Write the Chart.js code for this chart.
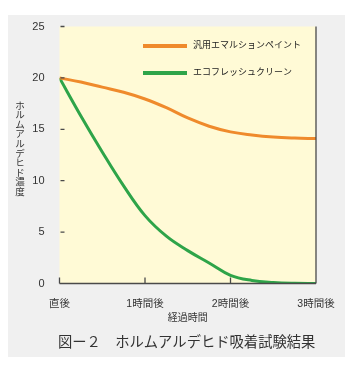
<!DOCTYPE html>
<html>
<head>
<meta charset="utf-8">
<script src="https://cdn.jsdelivr.net/npm/chart.js@4.4.1/dist/chart.umd.min.js"></script>
<style>
    html, body { margin: 0; padding: 0; background: #ffffff; }
    #wrap { width: 352px; height: 365px; }
</style>
</head>
<body>
<div id="wrap"><canvas id="formaldehyde" width="352" height="365"></canvas></div>
<script>
// data
let hours = [0, 0.25, 0.5, 0.75, 1, 1.25, 1.5, 1.75, 2, 2.25, 2.5, 2.75, 3];
let emulsionPaint = [20, 19.6, 19.1, 18.6, 17.95, 17.1, 16.1, 15.3, 14.75, 14.45, 14.25, 14.15, 14.1];
let ecoFreshClean = [20, 16.3, 12.8, 9.5, 6.6, 4.6, 3.2, 2.0, 0.8, 0.3, 0.1, 0.02, 0];
let xTickLabels = ["直後", "1時間後", "2時間後", "3時間後"];
let yTicks = [0, 5, 10, 15, 20, 25];
let seriesNames = ["汎用エマルションペイント", "エコフレッシュクリーン"];
let yTitle = "ホルムアルデヒド濃度";
let xTitle = "経過時間";
let caption = "図ー２　ホルムアルデヒド吸着試験結果";

window.chartColors = {
    orange: '#ef8a2c',
    green: '#2ea449',
    plot: '#fffad6',
    panel: '#f0f0f0',
    axis: '#4a4a4a',
    text: '#333333'
}

let fontFamily = "'Liberation Sans', 'Noto Sans CJK JP', sans-serif";

// backgrounds, axis marks, legend and the extra texts
let decorations = {
    id: 'decorations',
    beforeDraw(chart) {
        let ctx = chart.ctx;
        let a = chart.chartArea;
        ctx.save();
        ctx.fillStyle = '#ffffff';
        ctx.fillRect(0, 0, chart.width, chart.height);
        ctx.fillStyle = window.chartColors.panel;
        ctx.fillRect(8, 15, 337, 342);
        ctx.fillStyle = window.chartColors.plot;
        ctx.fillRect(a.left, a.top, a.right - a.left, a.bottom - a.top);
        ctx.restore();
    },
    afterDraw(chart) {
        let ctx = chart.ctx;
        let a = chart.chartArea;
        let x = chart.scales.x;
        let y = chart.scales.y;
        ctx.save();
        ctx.strokeStyle = window.chartColors.axis;
        ctx.lineWidth = 1.3;
        ctx.beginPath();
        // bottom axis and right edge
        ctx.moveTo(a.left, a.bottom);
        ctx.lineTo(a.right, a.bottom);
        ctx.moveTo(a.right, a.bottom);
        ctx.lineTo(a.right, a.top);
        // y tick marks drawn inward
        yTicks.forEach(v => {
            if (v === 0) return;
            let py = y.getPixelForValue(v);
            ctx.moveTo(a.left + 1, py);
            ctx.lineTo(a.left + 5, py);
        });
        // x tick marks drawn upward
        for (let i = 0; i < xTickLabels.length; i++) {
            let px = x.getPixelForValue(i);
            ctx.moveTo(px, a.bottom);
            ctx.lineTo(px, a.bottom - 6);
        }
        ctx.stroke();

        // legend inside the plot
        let legendColors = [window.chartColors.orange, window.chartColors.green];
        ctx.font = "9px " + fontFamily;
        ctx.textBaseline = 'middle';
        ctx.textAlign = 'left';
        seriesNames.forEach((name, i) => {
            let ly = 46 + i * 27;
            ctx.strokeStyle = legendColors[i];
            ctx.lineWidth = 4;
            ctx.beginPath();
            ctx.moveTo(143, ly);
            ctx.lineTo(187, ly);
            ctx.stroke();
            ctx.fillStyle = '#222222';
            ctx.fillText(name, 193, ly);
        });

        // vertical y axis title
        ctx.fillStyle = window.chartColors.text;
        ctx.font = "9.5px " + fontFamily;
        ctx.textAlign = 'center';
        Array.from(yTitle).forEach((ch, i) => {
            ctx.fillText(ch, 20, 106 + i * 9.6);
        });

        // figure caption
        ctx.font = "14.3px " + fontFamily;
        ctx.textAlign = 'left';
        ctx.fillStyle = '#333333';
        ctx.fillText(caption, 58, 343);
        ctx.restore();
    }
}

let formaldehyde = new Chart(document.getElementById("formaldehyde").getContext("2d"), {
    type: 'line',
    data: {
        labels: hours,
        datasets: [{
                label: seriesNames[0],
                borderColor: window.chartColors.orange,
                backgroundColor: window.chartColors.orange,
                borderWidth: 3,
                pointRadius: 0,
                tension: 0.4,
                data: hours.map((h, i) => ({x: h, y: emulsionPaint[i]}))
            },
            {
                label: seriesNames[1],
                borderColor: window.chartColors.green,
                backgroundColor: window.chartColors.green,
                borderWidth: 3,
                pointRadius: 0,
                tension: 0.4,
                data: hours.map((h, i) => ({x: h, y: ecoFreshClean[i]}))
            }
        ]
    },
    options: {
        responsive: false,
        animation: false,
        layout: {
            padding: {left: 0, right: 36, top: 26.5, bottom: 41}
        },
        plugins: {
            legend: {display: false},
            tooltip: {enabled: false}
        },
        scales: {
            x: {
                type: 'linear',
                min: 0,
                max: 3,
                grid: {display: false},
                border: {display: false},
                ticks: {
                    stepSize: 1,
                    padding: 6,
                    color: window.chartColors.text,
                    font: {family: fontFamily, size: 10.5},
                    maxRotation: 0,
                    callback: v => xTickLabels[v]
                },
                title: {
                    display: true,
                    text: xTitle,
                    color: window.chartColors.text,
                    font: {family: fontFamily, size: 10, lineHeight: 1.2},
                    padding: 0
                },
                afterFit(scale) { scale.height = 40.5; }
            },
            y: {
                min: 0,
                max: 25,
                grid: {display: false},
                border: {display: false},
                ticks: {
                    stepSize: 5,
                    padding: 7,
                    color: window.chartColors.text,
                    font: {family: fontFamily, size: 11}
                },
                afterFit(scale) { scale.width = 59.5; }
            }
        }
    },
    plugins: [decorations]
});
</script>
</body>
</html>
